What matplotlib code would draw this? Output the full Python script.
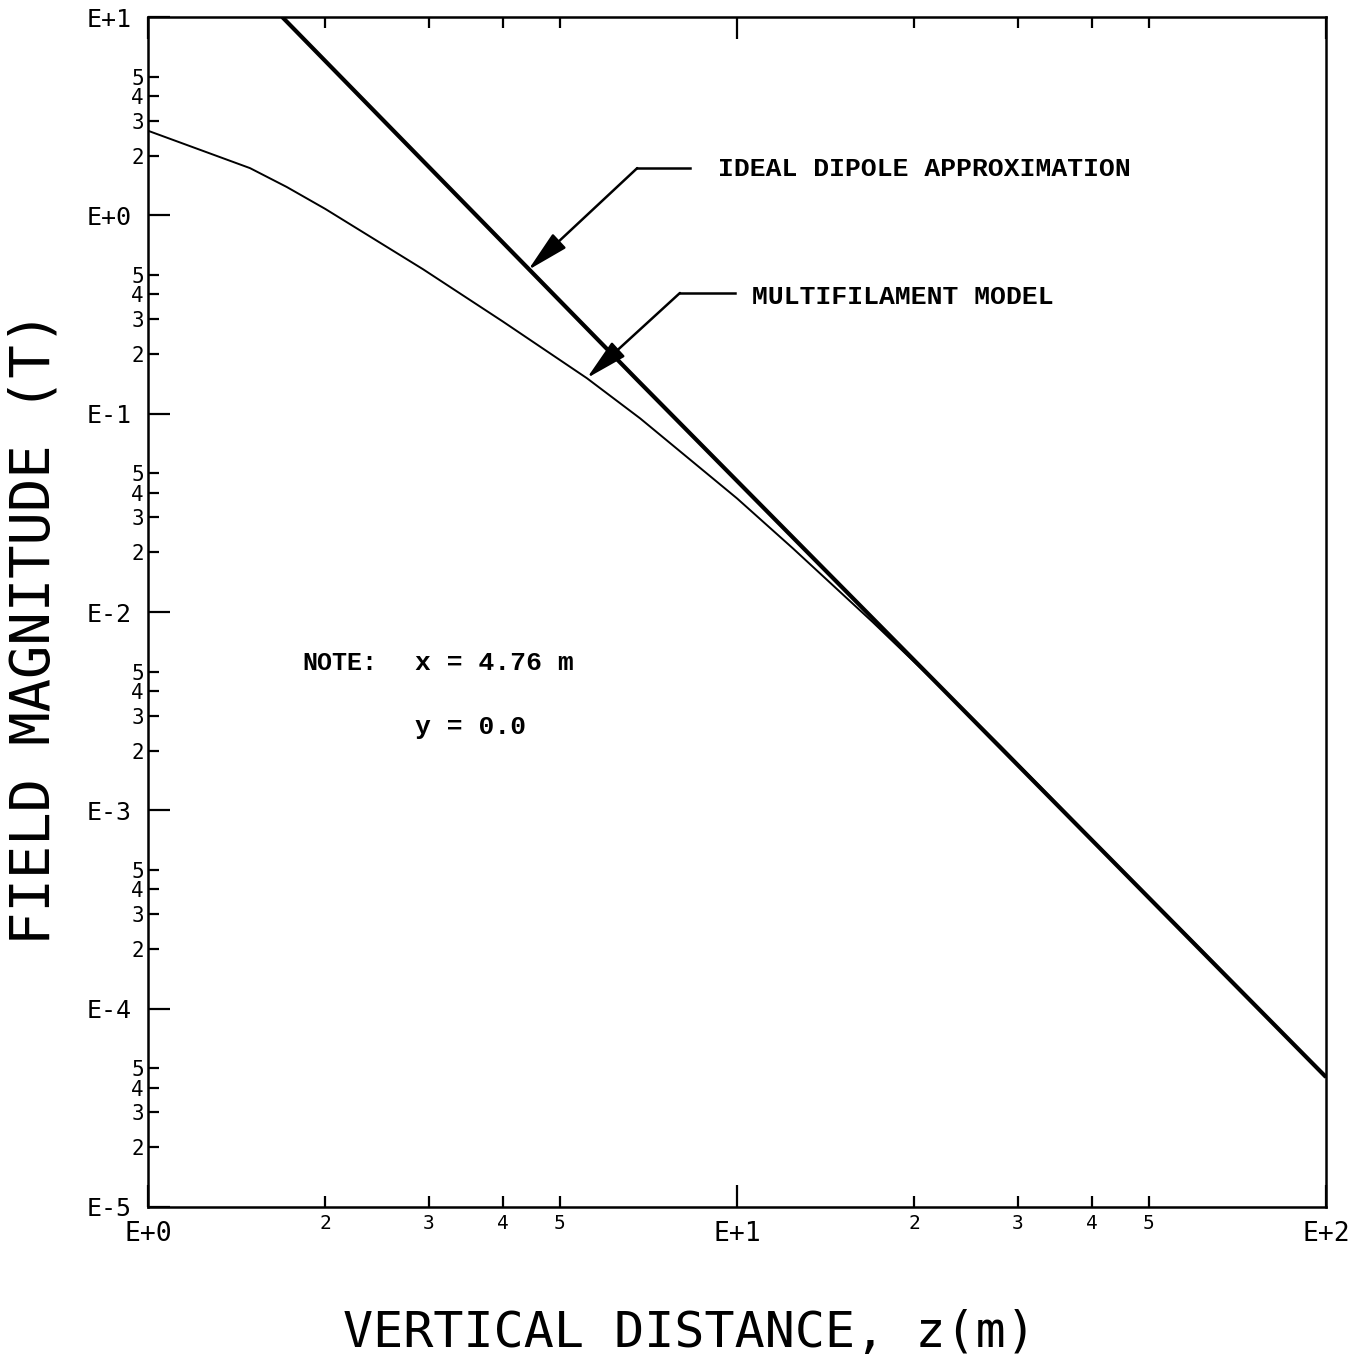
import matplotlib
matplotlib.use("Agg")
import matplotlib.pyplot as plt
from matplotlib.ticker import FixedLocator, FixedFormatter

# values (z in m, field in T)
dipole_z = [1.69, 6.77, 11.5, 31.4, 100.0]
dipole_b = [10.0, 0.148, 0.0301, 0.00147, 4.52e-5]

multi_z = [1.0, 1.49, 1.72, 2.0, 2.93, 4.0, 5.56, 6.85, 10.0, 12.45, 17.0,
           23.3, 28.0, 40.0, 60.0, 100.0]
multi_b = [2.67, 1.73, 1.39, 1.077, 0.535, 0.292, 0.151, 0.0946, 0.0374,
           0.0209, 0.00889, 0.00362, 0.00211, 7.15e-4, 2.12e-4, 4.52e-5]

x_major = [1, 10, 100]
x_major_labels = ["E+0", "E+1", "E+2"]
x_minor = [2, 3, 4, 5, 20, 30, 40, 50]
x_minor_labels = ["2", "3", "4", "5", "2", "3", "4", "5"]

y_major = [1e-5, 1e-4, 1e-3, 1e-2, 1e-1, 1, 10]
y_major_labels = ["E-5", "E-4", "E-3", "E-2", "E-1", "E+0", "E+1"]
y_minor = [m * 10.0 ** e for e in range(-5, 1) for m in (2, 3, 4, 5)]
y_minor_labels = [str(m) for e in range(-5, 1) for m in (2, 3, 4, 5)]

plotter = "DejaVu Sans Mono"
typed = "Liberation Mono"

fig = plt.figure(figsize=(13.61, 13.55), dpi=100)
ax = fig.add_axes([148 / 1361, 1 - 1207 / 1355, 1178 / 1361, 1190 / 1355])
ax.set_xscale("log")
ax.set_yscale("log")
ax.set_xlim(1, 100)
ax.set_ylim(1e-5, 10)

ax.plot(dipole_z, dipole_b, color="black", lw=3.0, solid_capstyle="butt")
ax.plot(multi_z, multi_b, color="black", lw=1.4)

ax.xaxis.set_major_locator(FixedLocator(x_major))
ax.xaxis.set_major_formatter(FixedFormatter(x_major_labels))
ax.xaxis.set_minor_locator(FixedLocator(x_minor))
ax.xaxis.set_minor_formatter(FixedFormatter(x_minor_labels))
ax.yaxis.set_major_locator(FixedLocator(y_major))
ax.yaxis.set_major_formatter(FixedFormatter(y_major_labels))
ax.yaxis.set_minor_locator(FixedLocator(y_minor))
ax.yaxis.set_minor_formatter(FixedFormatter(y_minor_labels))

ax.tick_params(which="both", direction="in", top=True, right=False,
               width=1.6, color="black")
ax.tick_params(which="major", length=16)
ax.tick_params(which="minor", length=8)
ax.tick_params(axis="x", which="major", pad=10, labelsize=19)
ax.tick_params(axis="x", which="minor", pad=5, labelsize=14)
ax.tick_params(axis="y", which="major", pad=12, labelsize=18)
ax.tick_params(axis="y", which="minor", pad=3, labelsize=15)
for lab in ax.get_xticklabels(which="both") + ax.get_yticklabels(which="both"):
    lab.set_family(plotter)

for s in ax.spines.values():
    s.set_linewidth(1.8)

# axis titles placed on the figure so they sit where the plotter put them
fig.text(689 / 1361, 8 / 1355, "VERTICAL DISTANCE, z(m)", family=plotter,
         fontsize=36, ha="center", va="baseline")
fig.text(35 / 1361, 1 - 628 / 1355, "FIELD MAGNITUDE (T)", family=plotter,
         fontsize=40, ha="center", va="center", rotation=90)

# callouts
ax.plot([8.32, 6.77], [1.73, 1.73], color="black", lw=1.8)
ax.annotate("", xy=(4.42, 0.53), xytext=(6.77, 1.73),
            arrowprops=dict(arrowstyle="-|>,head_length=1.3,head_width=0.3",
                            mutation_scale=20, lw=1.8, color="black",
                            shrinkA=0, shrinkB=0))
ax.text(9.28, 1.71, "IDEAL DIPOLE APPROXIMATION", family=typed,
        fontweight="bold", fontsize=19, va="center", ha="left")

ax.plot([9.92, 8.0], [0.406, 0.406], color="black", lw=1.8)
ax.annotate("", xy=(5.56, 0.151), xytext=(8.0, 0.406),
            arrowprops=dict(arrowstyle="-|>,head_length=1.3,head_width=0.3",
                            mutation_scale=20, lw=1.8, color="black",
                            shrinkA=0, shrinkB=0))
ax.text(10.6, 0.388, "MULTIFILAMENT MODEL", family=typed,
        fontweight="bold", fontsize=19, va="center", ha="left")

ax.text(1.83, 0.00553, "NOTE:", family=typed, fontweight="bold",
        fontsize=18, va="center", ha="left")
ax.text(2.84, 0.00553, "x = 4.76 m", family=typed, fontweight="bold",
        fontsize=19, va="center", ha="left")
ax.text(2.84, 0.00263, "y = 0.0", family=typed, fontweight="bold",
        fontsize=19, va="center", ha="left")

fig.savefig("out.png", dpi=100)
